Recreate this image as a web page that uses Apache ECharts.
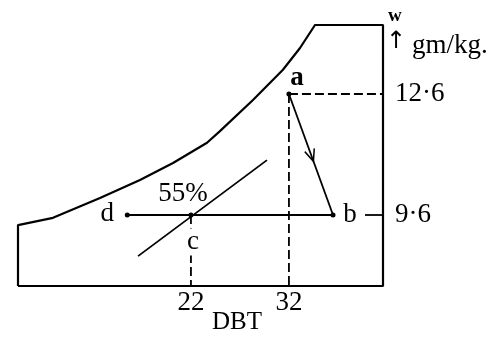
<!DOCTYPE html>
<html>
<head>
<meta charset="utf-8">
<script src="https://cdn.jsdelivr.net/npm/echarts@6/dist/echarts.min.js"></script>
<style>
  html, body { margin: 0; padding: 0; background: #fff; }
  #main { width: 500px; height: 337px; }
</style>
</head>
<body>
<div id="main"></div>
<script>
// chart outline: box + saturation curve (DBT, w)
var outline = [
    [4.35, 7.84], [4.35, 9.35], [7.92, 9.53], [12.72, 10.02], [16.8, 10.47],
    [20.17, 10.89], [23.64, 11.39], [24.96, 11.68], [28.33, 12.45], [31.39, 13.2],
    [33.13, 13.74], [34.66, 14.31], [41.6, 14.31], [41.6, 7.84], [4.35, 7.84]
];
// state points
var pointNames = ['a', 'b', 'c', 'd'];
var pointData = [[32, 12.6], [36.5, 9.6], [22, 9.6], [15.5, 9.6]];
var coolingLine = [[32, 12.6], [36.5, 9.6]];
var mixLine = [[15.5, 9.6], [36.5, 9.6]];
var rhLine = [[16.6, 8.58], [29.76, 10.96]];
var arrowAt = [[34.3, 11.07]];
var dashA_h = [[32, 12.6], [41.6, 12.6]];
var dashA_v = [[32, 12.6], [32, 7.84]];
var dashC_v = [[22, 9.6], [22, 7.84]];
// ticks
var xTicks = [22, 32];
var yTicks = [9.6, 12.6];

var ink = '#000';
var font = 'Liberation Serif';

var myChart = echarts.init(document.getElementById('main'));

function seg(data, dashed, w) {
    return {
        type: 'line', data: data, symbol: 'none', silent: true, animation: false,
        lineStyle: { color: ink, width: w || 1.8, type: dashed ? [9, 4] : 'solid' }
    };
}

var labelOffsets = { a: [8, -16], b: [17, 0], c: [2, 27], d: [-20, -1] };

myChart.setOption({
    backgroundColor: '#fff',
    animation: false,
    grid: { left: 18, right: 117, top: 25, bottom: 51 },
    xAxis: {
        type: 'value', min: 4.35, max: 41.6,
        axisLine: { show: false },
        axisTick: { show: false },
        splitLine: { show: false },
        axisLabel: {
            customValues: xTicks, margin: 3,
            color: ink, fontFamily: font, fontSize: 27
        }
    },
    yAxis: {
        type: 'value', position: 'right', min: 7.84, max: 14.31,
        axisLine: { show: false },
        splitLine: { show: false },
        axisTick: {
            show: true, inside: true, length: 18, customValues: [9.6],
            lineStyle: { color: ink, width: 1.8 }
        },
        axisLabel: {
            customValues: yTicks, margin: 12,
            color: ink, fontFamily: font, fontSize: 27,
            formatter: function (v) { return String(v).replace('.', '·'); }
        }
    },
    graphic: [
        { type: 'text', left: 388, top: 7, style: { text: 'w', font: 'bold 19px ' + font, fill: ink } },
        { type: 'text', left: 386, top: 30, style: { text: '↑', font: '24px DejaVu Sans', fill: ink } },
        { type: 'text', left: 412, top: 32, style: { text: 'gm/kg.', font: '27px ' + font, fill: ink } },
        { type: 'text', left: 212, top: 310, style: { text: 'DBT', font: '25px ' + font, fill: ink } }
    ],
    series: [
        seg(outline, false, 2.2),
        seg(dashA_h, true),
        seg(dashA_v, true),
        seg(dashC_v, true),
        seg(coolingLine, false),
        seg(mixLine, false),
        seg(rhLine, false),
        {
            type: 'scatter', data: arrowAt, animation: false, silent: true,
            symbol: 'path://M0,0 L5,9 L10,0', symbolSize: [10, 12], symbolRotate: 19,
            itemStyle: { color: 'none', borderColor: ink, borderWidth: 1.6, opacity: 1 }
        },
        {
            type: 'scatter', animation: false, silent: true, clip: false, z: 5,
            data: pointData.map(function (p, i) {
                var n = pointNames[i];
                return {
                    value: p, name: n,
                    label: {
                        show: true, formatter: n, position: 'inside', offset: labelOffsets[n],
                        color: ink, fontFamily: font, fontSize: 27, opacity: 1,
                        fontWeight: n === 'a' ? 'bold' : 'normal',
                        backgroundColor: n === 'c' ? '#fff' : 'transparent',
                        padding: n === 'c' ? [0, 2] : 0
                    }
                };
            }),
            symbolSize: 5, itemStyle: { color: ink, opacity: 1 }
        },
        {
            type: 'scatter', animation: false, silent: true,
            data: [{ value: [22, 9.6], name: '55%' }],
            symbolSize: 0, itemStyle: { opacity: 1 },
            label: {
                show: true, formatter: '55%', position: 'inside', offset: [-8, -21],
                color: ink, fontFamily: font, fontSize: 27, opacity: 1
            }
        }
    ]
});
</script>
</body>
</html>
